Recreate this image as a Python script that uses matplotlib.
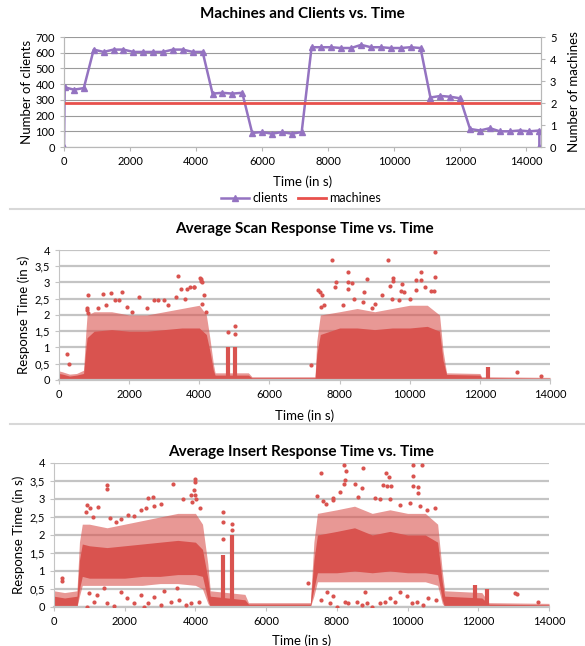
import numpy as np
import matplotlib
matplotlib.use("Agg")
from matplotlib import pyplot as plt
from matplotlib.lines import Line2D

plt.rcParams['font.family'] = ['Lato', 'DejaVu Sans']

# --- Machines and clients vs. time ---
cl_t = [0, 20, 300, 600, 900, 1200, 1500, 1800, 2100, 2400, 2700, 3000, 3300, 3600, 3900, 4200,
        4500, 4800, 5100, 5400, 5700, 6000, 6300, 6600, 6900, 7200, 7500, 7800, 8100, 8400, 8700,
        9000, 9300, 9600, 9900, 10200, 10500, 10800, 11100, 11400, 11700, 12000, 12300, 12600,
        12900, 13200, 13500, 13800, 14100, 14400, 14400]
clients = [0, 380, 365, 375, 620, 605, 620, 620, 605, 605, 605, 605, 620, 620, 605, 605,
           340, 345, 340, 345, 90, 95, 85, 95, 85, 95, 635, 635, 635, 630, 630,
           650, 635, 635, 630, 630, 635, 630, 315, 325, 320, 310, 115, 105,
           120, 100, 100, 105, 100, 105, 0]
mach_t = [0, 14400]
machines = [2, 2]

# --- scan response time: dense band (core) and sparser fringe ---
scan_t = [0, 100, 300, 500, 700, 760, 800, 1000, 1500, 2000, 2500, 3000, 3500, 4000, 4200, 4300,
          4400, 4450, 5400, 5500, 7300, 7350, 7450, 8000, 8500, 9000, 9500, 10000, 10500, 10850,
          10950, 11050, 12000, 12050, 14000]
scan_core = [0.2, 0.18, 0.12, 0.15, 0.2, 0.9, 1.3, 1.5, 1.55, 1.5, 1.5, 1.55, 1.6, 1.6, 1.4, 0.9,
             0.3, 0.15, 0.15, 0.07, 0.07, 0.8, 1.4, 1.6, 1.6, 1.55, 1.6, 1.6, 1.65, 1.5,
             0.6, 0.17, 0.15, 0.07, 0.05]
scan_fringe = [0.28, 0.25, 0.18, 0.2, 0.3, 1.4, 2.0, 2.1, 2.1, 2.0, 2.0, 2.1, 2.2, 2.3, 2.0, 1.3,
               0.5, 0.22, 0.22, 0.1, 0.1, 1.2, 2.0, 2.1, 2.2, 2.1, 2.2, 2.3, 2.3, 2.0,
               0.9, 0.22, 0.2, 0.1, 0.08]
scan_spike_t = [4820, 5030, 12245]
scan_spike_v = [1.0, 1.0, 0.4]
scan_out = [(240, 0.8), (286, 0.48), (820, 2.6), (800, 2.15), (790, 2.2), (830, 2.05),
            (1240, 2.65), (1480, 2.68), (1800, 2.7), (2290, 2.55), (1600, 2.45), (1700, 2.45),
            (2710, 2.45), (2830, 2.45), (3000, 2.45), (3380, 3.2), (3470, 2.8), (3650, 2.8),
            (3850, 2.85), (3330, 2.55), (3600, 2.5), (2070, 2.1), (2500, 2.2), (3100, 2.3),
            (1100, 2.2), (1350, 2.3), (1950, 2.25), (3730, 2.87), (4020, 3.13), (4050, 3.05),
            (4080, 3.0), (4060, 3.1), (3840, 2.87), (4140, 2.6), (4075, 2.33), (4180, 2.1),
            (4820, 1.48), (5030, 1.67), (5030, 1.43), (7190, 0.46),
            (7380, 2.77), (7450, 2.72), (7500, 2.6), (7780, 3.7), (7855, 2.85), (7890, 3.0),
            (7460, 2.26), (7560, 2.3), (8240, 3.33), (8240, 3.0), (8240, 2.8), (8360, 2.98),
            (8790, 3.11), (9390, 3.69), (9530, 3.15), (9530, 3.06), (9440, 2.9), (9790, 2.95),
            (10310, 3.33), (10170, 3.08), (10310, 3.08), (10715, 3.18), (10724, 3.95),
            (10600, 2.74), (10690, 2.73), (8695, 2.72), (9200, 2.62), (9740, 2.74), (9840, 2.7),
            (10190, 2.76), (10440, 2.85), (8095, 2.3), (8677, 2.4), (8930, 2.2), (9500, 2.5),
            (9690, 2.45), (8400, 2.5), (9000, 2.35), (10000, 2.5),
            (13050, 0.25), (13745, 0.12)]

# --- insert response time ---
ins_t = [0, 300, 650, 720, 800, 1000, 1500, 2000, 2500, 3000, 3500, 4000, 4200, 4350, 4420,
         5400, 5500, 7250, 7350, 7450, 8000, 8500, 9000, 9500, 10000, 10500, 10850, 10980,
         11050, 12100, 12300, 14000]
ins_core_lo = [0, 0, 0, 0.5, 0.85, 0.8, 0.8, 0.8, 0.85, 0.85, 0.9, 0.9, 0.85, 0.2, 0,
               0, 0, 0, 0.5, 0.95, 0.95, 1.0, 0.95, 1.0, 0.95, 0.95, 0.9, 0.2,
               0, 0, 0, 0]
ins_core_hi = [0.3, 0.25, 0.3, 1.3, 1.75, 1.7, 1.65, 1.7, 1.75, 1.8, 1.85, 1.8, 1.6, 0.8, 0.3,
               0.2, 0.08, 0.08, 1.3, 2.0, 2.1, 2.2, 2.0, 2.1, 2.0, 2.0, 1.8, 0.7,
               0.3, 0.25, 0.08, 0.06]
ins_fr_lo = [0, 0, 0, 0.3, 0.6, 0.6, 0.6, 0.6, 0.6, 0.65, 0.65, 0.6, 0.5, 0.1, 0,
             0, 0, 0, 0.3, 0.7, 0.7, 0.7, 0.7, 0.7, 0.7, 0.7, 0.6, 0.1,
             0, 0, 0, 0]
ins_fr_hi = [0.45, 0.4, 0.45, 1.8, 2.3, 2.3, 2.2, 2.3, 2.4, 2.5, 2.6, 2.6, 2.3, 1.2, 0.45,
             0.35, 0.12, 0.12, 1.8, 2.6, 2.7, 2.8, 2.6, 2.7, 2.6, 2.6, 2.3, 1.0,
             0.45, 0.4, 0.12, 0.1]
ins_spike_t = [4790, 5030, 11900, 12250]
ins_spike_v = [1.45, 2.0, 0.6, 0.5]
ins_out = [(236, 0.81), (236, 0.72), (925, 2.83), (1010, 2.76), (1255, 2.77), (896, 2.65),
           (1490, 3.4), (1490, 3.27), (2660, 3.04), (2810, 3.06), (3040, 2.85), (3377, 3.43),
           (3660, 3.0), (3870, 3.1), (3910, 2.93), (2264, 2.53), (2450, 2.69), (2594, 2.74),
           (2830, 2.8), (1585, 2.46), (1755, 2.37), (1100, 2.5), (1900, 2.45), (2100, 2.55),
           (3990, 3.55), (4000, 3.48), (3970, 3.25), (3980, 3.1), (4010, 3.0), (4130, 2.74),
           (4790, 2.64), (4790, 2.36), (4790, 1.9), (5030, 2.31), (5030, 2.13), (7180, 0.66),
           (7545, 3.73), (7430, 3.07), (7904, 3.04), (7600, 2.95), (7700, 2.85),
           (8211, 3.94), (8250, 3.78), (8230, 3.53), (8200, 3.43), (8750, 3.87), (9390, 3.72),
           (9470, 3.6), (9430, 3.35), (9520, 3.37), (9300, 3.4), (10145, 3.94), (10400, 3.94),
           (10145, 3.65), (10145, 3.37), (10300, 3.34), (10300, 3.16), (8512, 3.43), (8090, 3.2),
           (8700, 3.3), (8610, 3.06), (7900, 2.96), (9080, 3.03), (9220, 3.0), (9500, 3.0),
           (9786, 2.83), (10070, 2.9), (10350, 2.8), (10776, 2.74), (10540, 2.7),
           (13040, 0.39), (13100, 0.35), (13700, 0.15),
           (943, 0.01), (1132, 0.15), (1226, 0.33), (1509, 0.1), (1700, 0.03), (2075, 0.24),
           (2264, 0.1), (2550, 0.01), (2830, 0.29), (3020, 0.05), (3300, 0.15), (3540, 0.2),
           (3730, 0.05), (3870, 0.1), (1415, 0.52), (1887, 0.43), (2450, 0.33), (3470, 0.52),
           (1000, 0.4), (2650, 0.1), (3100, 0.45), (4100, 0.15),
           (7900, 0.3), (7995, 0.0), (8230, 0.15), (8320, 0.1), (8560, 0.15), (8700, 0.05),
           (8840, 0.1), (8980, 0.0), (9210, 0.1), (9350, 0.15), (9500, 0.25), (9640, 0.15),
           (9786, 0.43), (9975, 0.3), (10120, 0.1), (10260, 0.15), (10450, 0.05), (10590, 0.25),
           (8800, 0.43), (7715, 0.43), (7550, 0.2), (7800, 0.1), (10800, 0.2)]

resp_ticks = [0, 0.5, 1, 1.5, 2, 2.5, 3, 3.5, 4]
resp_labels = ["0", "0,5", "1", "1,5", "2", "2,5", "3", "3,5", "4"]

RED = '#d9534f'
PURPLE = '#9473c1'

fig = plt.figure(figsize=(5.85, 6.46), dpi=100)

# top panel
ax1 = fig.add_axes([0.1094, 0.7724, 0.8154, 0.1703])
ax1b = ax1.twinx()
ax1.plot(cl_t, clients, color=PURPLE, lw=1.8, marker='^', ms=4.5, label='clients', zorder=3)
ax1b.plot(mach_t, machines, color='#e8504c', lw=2, label='machines')
ax1.set_xlim(0, 14450)
ax1.set_ylim(0, 700)
ax1b.set_ylim(0, 5)
ax1.set_yticks(range(0, 701, 100))
ax1b.set_yticks(range(0, 6))
ax1.set_xticks(range(0, 14001, 2000))
ax1.grid(axis='y', color='#9a9a9a', lw=0.8)
ax1.set_axisbelow(True)
for a in (ax1, ax1b):
    for s in a.spines.values():
        s.set_color('#b8b8b8')
    a.spines['top'].set_visible(False)
    a.tick_params(labelsize=8, colors='#b8b8b8', labelcolor='black', length=3)
ax1.set_title('Machines and Clients vs. Time', fontsize=11, fontweight='bold', pad=14)
ax1.set_xlabel('Time (in s)', fontsize=9.5, labelpad=6)
ax1.set_ylabel('Number of clients', fontsize=9.5, labelpad=2)
ax1b.set_ylabel('Number of machines', fontsize=9.5, labelpad=8)
h1, l1 = ax1.get_legend_handles_labels()
h2, l2 = ax1b.get_legend_handles_labels()
fig.legend(h1 + h2, l1 + l2, loc='center', bbox_to_anchor=(0.515, 1 - 198 / 646), ncol=2,
           frameon=False, fontsize=9, handlelength=2.2, columnspacing=0.8, handletextpad=0.3,
           borderpad=0)


def resp_panel(ax, title, tpad, xpad):
    ax.set_xlim(0, 14000)
    ax.set_ylim(0, 4)
    ax.set_xticks(range(0, 14001, 2000))
    ax.set_yticks(resp_ticks)
    ax.set_yticklabels(resp_labels)
    ax.grid(axis='y', color='#c4c4c4', lw=1.6)
    ax.set_axisbelow(True)
    for s in ('top', 'right'):
        ax.spines[s].set_visible(False)
    ax.spines['left'].set_color('#c4c4c4')
    ax.spines['bottom'].set_color('#c4c4c4')
    ax.spines['bottom'].set_linewidth(1.6)
    ax.tick_params(labelsize=8, colors='#c4c4c4', labelcolor='black', length=3)
    ax.set_title(title, fontsize=11, fontweight='bold', pad=tpad)
    ax.set_xlabel('Time (in s)', fontsize=9.5, labelpad=xpad)
    ax.set_ylabel('Response Time (in s)', fontsize=9.5, labelpad=3)


ax2 = fig.add_axes([0.1009, 0.4118, 0.8393, 0.2012])
ax2.fill_between(scan_t, 0, scan_fringe, color=RED, alpha=0.6, lw=0, zorder=2)
ax2.fill_between(scan_t, 0, scan_core, color=RED, lw=0, zorder=2)
ax2.vlines(scan_spike_t, 0, scan_spike_v, color=RED, lw=3, zorder=2)
ax2.scatter([p[0] for p in scan_out], [p[1] for p in scan_out], s=9, color=RED, lw=0, zorder=3)
resp_panel(ax2, 'Average Scan Response Time vs. Time', 12, 7)

ax3 = fig.add_axes([0.0923, 0.0604, 0.8462, 0.2229])
ax3.fill_between(ins_t, ins_fr_lo, ins_fr_hi, color=RED, alpha=0.6, lw=0, zorder=2)
ax3.fill_between(ins_t, ins_core_lo, ins_core_hi, color=RED, lw=0, zorder=2)
ax3.vlines(ins_spike_t, 0, ins_spike_v, color=RED, lw=3, zorder=2)
ax3.scatter([p[0] for p in ins_out], [p[1] for p in ins_out], s=9, color=RED, lw=0, zorder=3)
resp_panel(ax3, 'Average Insert Response Time vs. Time', 5, 5)

# panel separators
for yy in (209, 424):
    fig.add_artist(Line2D([10 / 585, 1], [1 - yy / 646] * 2, color='#d8d8d8', lw=1.5))

fig.savefig('out.png', dpi=100)
